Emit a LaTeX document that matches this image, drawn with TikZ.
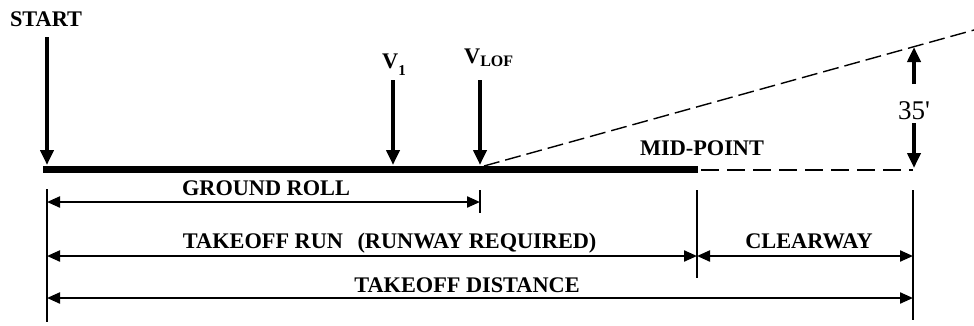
\documentclass[tikz,border=0pt]{standalone}
\usepackage{fontspec}
\setmainfont{Liberation Serif}
\newfontfamily\plainserif[Ligatures=TeXOff]{Liberation Serif}
\usetikzlibrary{arrows.meta}
\tikzset{
  lbl/.style={inner sep=0pt, anchor=base, font=\bfseries\fontsize{22.3}{24}\selectfont},
  vmark/.style={line width=4pt, -{Triangle[width=13pt,length=15pt]}},
  dimline/.style={line width=2.2pt, {Triangle[width=11pt,length=13pt]}-{Triangle[width=11pt,length=13pt]}},
  extline/.style={line width=2.5pt},
  climb/.style={line width=1.4pt, dash pattern=on 16pt off 6pt},
  overrun/.style={line width=2pt, dash pattern=on 18pt off 8pt}
}
\begin{document}
\begin{tikzpicture}[x=1pt, y=-1pt]
  \useasboundingbox (0,0) rectangle (974,325);

  \path
  (46,26) node[lbl](start){START}
  (382,68) node[lbl, anchor=base west](vone){V\raisebox{-7pt}{\fontsize{15}{15}\selectfont 1}}
  (464,63) node[lbl, anchor=base west](vlof){V\raisebox{-3pt}{\fontsize{16}{15}\selectfont LOF}}
  (702,155) node[lbl](midpt){MID-POINT}
  (914,119) node[inner sep=0pt, anchor=base, font=\plainserif\fontsize{27}{28}\selectfont](height){35'};

  \path
  (47,37) coordinate (sTop)
  (47,165) coordinate (sTip)
  (393,80) coordinate (aTop)
  (393,165) coordinate (aTip)
  (480,80) coordinate (lTop)
  (480,165) coordinate (lTip)
  (43,169.5) coordinate (rwyA)
  (698,169.5) coordinate (rwyB)
  (913,169.5) coordinate (clrEnd)
  (484,166) coordinate (liftOff)
  (974,30) coordinate (climbEnd)
  (914,84) coordinate (hUp)
  (914,47) coordinate (hTop)
  (914,123) coordinate (hDn)
  (914,168) coordinate (hBase);

  \draw[vmark] (sTop) -- (sTip);
  \draw[vmark] (aTop) -- (aTip);
  \draw[vmark] (lTop) -- (lTip);
  \draw[line width=7pt] (rwyA) -- (rwyB);
  \draw[overrun] (rwyB) ++(3,0) -- (clrEnd);
  \draw[climb] (liftOff) -- (climbEnd);
  \draw[vmark] (hUp) -- (hTop);
  \draw[vmark] (hDn) -- (hBase);

  \path
  (47,189) coordinate (eA1) (47,322) coordinate (eA2)
  (480,190) coordinate (eB1) (480,213) coordinate (eB2)
  (697,190) coordinate (eC1) (697,278) coordinate (eC2)
  (913,190) coordinate (eD1) (913,320) coordinate (eD2);
  \draw[extline] (eA1) -- (eA2);
  \draw[extline] (eB1) -- (eB2);
  \draw[extline] (eC1) -- (eC2);
  \draw[extline] (eD1) -- (eD2);

  \draw[dimline] (eA1 |- 0,202) coordinate (grA) -- (eB1 |- 0,202) coordinate (grB);
  \draw[dimline] (eA1 |- 0,256) coordinate (trA) -- (eC1 |- 0,256) coordinate (trB);
  \draw[dimline] (eC1 |- 0,256) coordinate (cwA) -- (eD1 |- 0,256) coordinate (cwB);
  \draw[dimline] (eA1 |- 0,298) coordinate (tdA) -- (eD1 |- 0,298) coordinate (tdB);

  \path
  (266,195) node[lbl](groll){GROUND ROLL}
  (263,248) node[lbl](trun){TAKEOFF RUN}
  (477,248) node[lbl](rwyreq){(RUNWAY REQUIRED)}
  (809,248) node[lbl](clrway){CLEARWAY}
  (467,292) node[lbl](tdist){TAKEOFF DISTANCE};
\end{tikzpicture}
\end{document}
